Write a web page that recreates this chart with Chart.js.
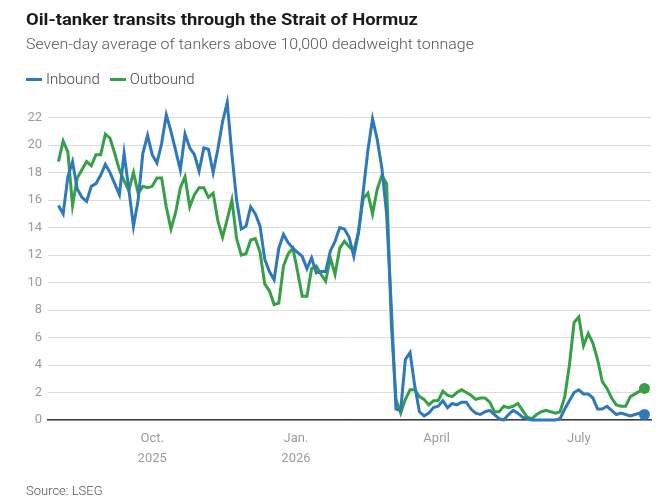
<!DOCTYPE html>
<html>
<head>
<meta charset="utf-8">
<script src="https://cdn.jsdelivr.net/npm/chart.js@4.4.1/dist/chart.umd.min.js"></script>
<style>
  html, body { margin: 0; padding: 0; background: #fff; }
  #wrap { position: relative; width: 666px; height: 502px; overflow: hidden; font-family: Roboto, sans-serif; }
  #chart { position: absolute; left: 0; top: 0; }
  .txt { position: absolute; white-space: nowrap; transform-origin: left top; }
  #title { left: 26px; top: 9px; font-size: 17px; font-weight: 700; color: #1a1a1a; }
  #subtitle { left: 26px; top: 35px; font-size: 15px; font-weight: 300; color: #555; }
  #legend { left: 26px; top: 70px; font-size: 15px; font-weight: 300; color: #444; }
  #legend span.sw { display: inline-block; width: 16px; height: 3px; vertical-align: middle; margin-right: 4px; position: relative; top: -1px; }
  #legend span.item { margin-right: 10px; }
  #source { left: 26px; top: 483px; font-size: 13px; font-weight: 300; color: #555; }
</style>
</head>
<body>
<div id="wrap">
  <canvas id="chart" width="666" height="502"></canvas>
  <div id="title" class="txt">Oil-tanker transits through the Strait of Hormuz</div>
  <div id="subtitle" class="txt">Seven-day average of tankers above 10,000 deadweight tonnage</div>
  <div id="legend" class="txt"></div>
  <div id="source" class="txt">Source: LSEG</div>
</div>
<script>
// seven-day averages, one reading every 3 days from the start date
const startDate = '2025-08-02';
const stepDays = 3;

const seriesNames = ['Inbound', 'Outbound'];
const seriesColors = ['#2f78ba', '#36a046'];

const inbound = [
  15.6, 15.0, 17.7, 18.8, 16.8, 16.2, 15.9, 17.0, 17.2, 17.8,
  18.6, 18.0, 17.2, 16.4, 19.4, 16.8, 14.1, 16.0, 19.4, 20.7,
  19.3, 18.7, 20.1, 22.2, 21.0, 19.6, 18.2, 20.8, 19.8, 19.3,
  18.1, 19.8, 19.7, 18.0, 19.7, 21.7, 23.1, 19.3, 16.0, 13.9,
  14.1, 15.5, 15.0, 14.1, 11.7, 10.8, 10.2, 12.5, 13.5, 12.9,
  12.5, 12.2, 11.9, 11.0, 11.8, 10.7, 10.8, 10.8, 12.3, 13.0,
  14.0, 13.9, 13.3, 11.9, 13.6, 16.6, 19.6, 21.9, 20.4, 18.3,
  15.0, 8.2, 0.8, 0.7, 4.4, 4.9, 2.5, 0.6, 0.3, 0.5,
  0.9, 1.0, 1.4, 0.9, 1.2, 1.1, 1.3, 1.3, 0.8, 0.5,
  0.4, 0.6, 0.7, 0.4, 0.1, 0.0, 0.4, 0.7, 0.5, 0.2,
  0.1, 0.0, 0.0, 0.0, 0.0, 0.0, 0.0, 0.1, 0.8, 1.4,
  2.0, 2.2, 1.9, 1.9, 1.6, 0.8, 0.8, 1.0, 0.7, 0.4,
  0.5, 0.4, 0.3, 0.4, 0.5, 0.4
];

const outbound = [
  18.8, 20.3, 19.5, 15.6, 17.6, 18.2, 18.8, 18.5, 19.3, 19.3,
  20.8, 20.5, 19.4, 18.2, 17.4, 16.7, 18.0, 16.5, 17.0, 16.9,
  17.0, 17.6, 17.6, 15.5, 13.9, 15.1, 16.9, 17.7, 15.5, 16.4,
  16.9, 16.9, 16.2, 16.5, 14.5, 13.3, 14.6, 16.0, 13.2, 12.0,
  12.1, 13.1, 13.2, 12.2, 9.9, 9.4, 8.4, 8.5, 11.2, 12.1,
  12.5, 10.8, 9.0, 9.0, 11.0, 11.2, 10.6, 10.1, 11.8, 10.6,
  12.5, 13.0, 12.6, 12.3, 13.7, 16.1, 16.5, 15.0, 16.8, 17.8,
  17.2, 7.0, 1.5, 0.5, 1.5, 2.2, 2.2, 1.7, 1.5, 1.1,
  1.4, 1.4, 2.1, 1.8, 1.7, 2.0, 2.2, 2.0, 1.8, 1.5,
  1.6, 1.6, 1.3, 0.6, 0.6, 1.0, 0.9, 1.0, 1.2, 0.7,
  0.2, 0.1, 0.4, 0.6, 0.7, 0.6, 0.5, 0.6, 1.7, 4.0,
  7.1, 7.5, 5.4, 6.3, 5.6, 4.4, 2.8, 2.3, 1.6, 1.1,
  1.0, 1.0, 1.7, 1.9, 2.1, 2.3
];

const tickDates = ['2025-10-01', '2026-01-01', '2026-04-01', '2026-07-01'];
const tickLabels = [['Oct.', '2025'], ['Jan.', '2026'], ['April'], ['July']];
const yTicks = [0, 2, 4, 6, 8, 10, 12, 14, 16, 18, 20, 22];

const dayOf = (d) => (Date.parse(d) - Date.parse(startDate)) / 86400000;
const tickDays = tickDates.map(dayOf);

function points(values) {
  return values.map((v, i) => ({ x: i * stepDays, y: v }));
}

function lineDataset(label, values, color) {
  const last = values.length - 1;
  return {
    label,
    data: points(values),
    borderColor: color,
    backgroundColor: color,
    borderWidth: 3,
    tension: 0,
    pointRadius: (ctx) => (ctx.dataIndex === last ? 5.5 : 0),
    pointHoverRadius: 0,
    pointBorderWidth: 0,
    pointBackgroundColor: color,
    clip: false,
  };
}

const gray = '#9b9b9b';

new Chart(document.getElementById('chart').getContext('2d'), {
  type: 'line',
  data: {
    datasets: [
      lineDataset(seriesNames[0], inbound, seriesColors[0]),
      lineDataset(seriesNames[1], outbound, seriesColors[1]),
    ],
  },
  options: {
    responsive: false,
    animation: false,
    layout: { padding: { top: 97, left: 0, right: 15, bottom: 32 } },
    plugins: { legend: { display: false }, tooltip: { enabled: false } },
    scales: {
      x: {
        type: 'linear',
        min: -6.7,
        max: 379.2,
        afterFit: (s) => { s.height = 50; },
        afterBuildTicks: (s) => { s.ticks = tickDays.map((v) => ({ value: v })); },
        grid: { display: false },
        border: { display: true, color: '#3a3a3a', width: 1.5 },
        ticks: {
          autoSkip: false,
          maxRotation: 0,
          padding: 0,
          color: gray,
          font: { family: 'Roboto', size: 13, lineHeight: 1.6 },
          callback: (v) => tickLabels[tickDays.indexOf(v)],
        },
      },
      y: {
        min: 0,
        max: 23.5,
        afterFit: (s) => { s.width = 48; },
        afterBuildTicks: (s) => { s.ticks = yTicks.map((v) => ({ value: v })); },
        grid: { color: '#dcdcdc', lineWidth: 1, drawTicks: false },
        border: { display: false },
        ticks: {
          padding: 6,
          color: gray,
          font: { family: 'Roboto', size: 13 },
        },
      },
    },
  },
});

// legend
const legend = document.getElementById('legend');
seriesNames.forEach((name, i) => {
  const item = document.createElement('span');
  item.className = 'item';
  const sw = document.createElement('span');
  sw.className = 'sw';
  sw.style.background = seriesColors[i];
  item.appendChild(sw);
  item.appendChild(document.createTextNode(name));
  legend.appendChild(item);
});

// squeeze headings to the widths of the original
function fitWidth(id, target) {
  const el = document.getElementById(id);
  const w = el.getBoundingClientRect().width;
  el.style.transform = `scaleX(${target / w})`;
}
fitWidth('title', 392);
fitWidth('subtitle', 448);
</script>
</body>
</html>
